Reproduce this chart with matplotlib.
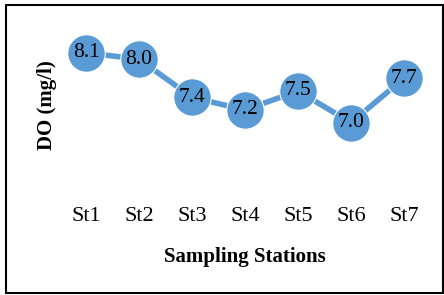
import matplotlib.pyplot as plt
from matplotlib.patches import Rectangle

stations = ["St1", "St2", "St3", "St4", "St5", "St6", "St7"]
do_values = [8.1, 8.0, 7.4, 7.2, 7.5, 7.0, 7.7]

plt.rcParams['font.family'] = ['Liberation Serif', 'DejaVu Serif']

W, H = 444, 295
fig = plt.figure(figsize=(W / 100, H / 100), dpi=100)

# axes box in pixel terms: x from 59.5 to 430.5, y from 21 to 199 (top-down)
left, right, top, bottom = 59.5, 430.5, 21.0, 199.0
ax = fig.add_axes([left / W, 1 - bottom / H, (right - left) / W, (bottom - top) / H])

x = list(range(len(stations)))
ax.plot(x, do_values, color="#5B9BD5", linewidth=4, marker="o",
        markersize=27, markerfacecolor="#5B9BD5", markeredgecolor="white",
        markeredgewidth=0.8, zorder=2)
for xi, v in zip(x, do_values):
    ax.text(xi, v, f"{v:.1f}", ha="center", va="center", fontsize=15.5, zorder=3)

ax.set_xlim(-0.5, 6.5)
ax.set_ylim(5.8, 8.6)
ax.set_yticks([])
ax.set_xticks(x)
ax.set_xticklabels(stations, fontsize=16)
ax.tick_params(axis="x", length=0, pad=6)
for s in ax.spines.values():
    s.set_visible(False)

fig.text(245 / W, 1 - 257 / H, "Sampling Stations", ha="center", va="center",
         fontsize=15, fontweight="bold")
fig.text(47 / W, 1 - 105 / H, "DO (mg/l)", ha="center", va="center",
         rotation=90, fontsize=15, fontweight="bold")

# outer frame
fig.patches.append(Rectangle((5.5 / W, 1 - 292.5 / H), 437.5 / W, 287.5 / H,
                             transform=fig.transFigure, fill=False,
                             edgecolor="black", linewidth=1.5))

fig.savefig("out.png", dpi=100)
